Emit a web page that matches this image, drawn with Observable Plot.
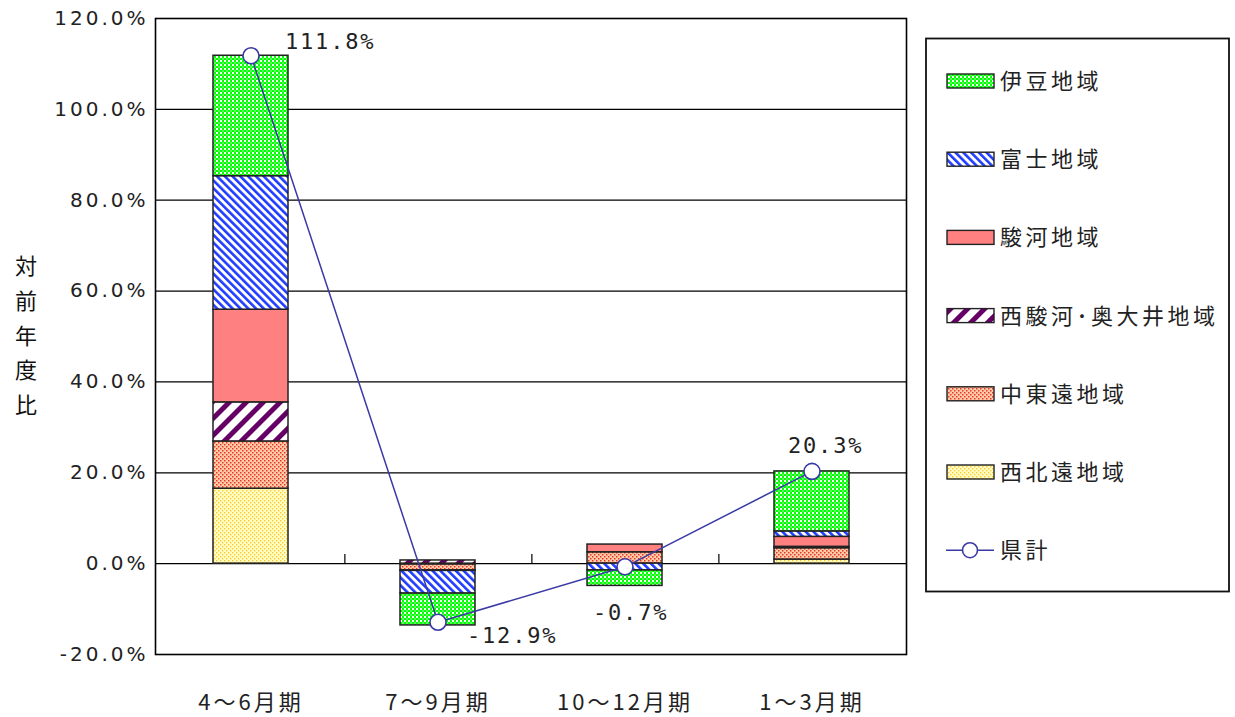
<!DOCTYPE html>
<html><head><meta charset="utf-8">
<script src="https://cdn.jsdelivr.net/npm/d3@7"></script>
<script src="https://cdn.jsdelivr.net/npm/@observablehq/plot@0.6"></script>
<style>
body{margin:0;background:#fff;}
#wrap{position:relative;width:1235px;height:717px;overflow:hidden;background:#fff;}
#chart{position:absolute;left:0;top:0;}
#ytitle{position:absolute;left:8px;top:247px;width:36px;text-align:center;font-family:"Noto Sans CJK JP",sans-serif;font-size:22px;line-height:34.75px;color:#111;}
#legend{position:absolute;left:0;top:0;}
g[aria-label="y-axis tick label"] text{font-family:"DejaVu Sans",sans-serif;font-size:20px;letter-spacing:3px;fill:#222;}
g[aria-label="x-axis tick label"] text{font-family:"Noto Sans CJK JP",sans-serif;font-size:22px;letter-spacing:3px;fill:#222;}
.vlab text{font-family:"DejaVu Sans Mono",monospace;font-size:22px;letter-spacing:1.8px;fill:#222;}
</style></head>
<body>
<svg width="0" height="0" style="position:absolute">
<defs>
<pattern id="p-izu" width="4" height="4" patternUnits="userSpaceOnUse">
  <rect width="4" height="4" fill="#00ff00"/>
  <rect x="0" y="0" width="2" height="2" fill="#ffffff"/>
  <rect x="2" y="2" width="2" height="2" fill="#ffffff" opacity="0.35"/>
</pattern>
<pattern id="p-fuji" width="5.5" height="5.5" patternUnits="userSpaceOnUse" patternTransform="rotate(-45)">
  <rect width="5.5" height="5.5" fill="#ffffff"/>
  <rect width="2.6" height="5.5" fill="#1f3cff"/>
</pattern>
<pattern id="p-nishi" width="12" height="12" patternUnits="userSpaceOnUse" patternTransform="rotate(45)">
  <rect width="12" height="12" fill="#ffffff"/>
  <rect width="5" height="12" fill="#660066"/>
</pattern>
<pattern id="p-chutoen" width="4" height="4" patternUnits="userSpaceOnUse">
  <rect width="4" height="4" fill="#ffcca8"/>
  <rect x="0" y="0" width="1.5" height="1.5" fill="#e8352a"/>
  <rect x="2" y="2" width="1.5" height="1.5" fill="#e8352a"/>
</pattern>
<pattern id="p-seihoku" width="4" height="4" patternUnits="userSpaceOnUse">
  <rect width="4" height="4" fill="#ffffc4"/>
  <rect x="0" y="0" width="1.4" height="1.4" fill="#ffc933"/>
  <rect x="2" y="2" width="1.4" height="1.4" fill="#ffc933"/>
</pattern>
</defs>
</svg>
<div id="wrap">
  <div id="chart"></div>
  <div id="ytitle"></div>
  <svg id="legend" width="1235" height="717"></svg>
</div>
<script>
// ---- data ----
const categories = ["4～6月期", "7～9月期", "10～12月期", "1～3月期"];
// stacking order: bottom (first) to top (last)
const regions = ["西北遠地域", "中東遠地域", "西駿河･奥大井地域", "駿河地域", "富士地域", "伊豆地域"];
const seihokuen   = [16.5, -0.2, 0.0, 0.9];
const chutoen     = [10.4, -1.3, 2.5, 2.5];
const nishisuruga = [8.6, 0.7, 0.0, 0.3];
const suruga      = [20.4, -0.1, 1.7, 2.2];
const fuji        = [29.4, -5.0, -1.5, 1.2];
const izu         = [26.5, -7.0, -3.4, 13.2];
const kenkei      = [111.8, -12.9, -0.7, 20.3];
const totalName = "県計";
const yTicks = [-20, 0, 20, 40, 60, 80, 100, 120];

const seriesValues = [seihokuen, chutoen, nishisuruga, suruga, fuji, izu];
const fills = {
  "西北遠地域": "url(#p-seihoku)",
  "中東遠地域": "url(#p-chutoen)",
  "西駿河･奥大井地域": "url(#p-nishi)",
  "駿河地域": "#ff8080",
  "富士地域": "url(#p-fuji)",
  "伊豆地域": "url(#p-izu)"
};
const lineColor = "#3a3aa6";

const tidy = [];
regions.forEach((r, j) => categories.forEach((c, i) => {
  const v = seriesValues[j][i];
  if (v !== 0) tidy.push({cat: c, region: r, value: v, fill: fills[r]});
}));
const totals = categories.map((c, i) => ({cat: c, value: kenkei[i], label: kenkei[i].toFixed(1) + "%"}));

const fmtPct = d => d.toFixed(1) + "%";
const step = (906 - 155) / categories.length;

const plot = Plot.plot({
  width: 912, height: 717,
  marginLeft: 155, marginRight: 6, marginTop: 18, marginBottom: 63,
  x: {domain: categories, paddingInner: 0.6, paddingOuter: 0.3, label: null},
  y: {domain: [-20, 120], label: null},
  color: {type: "identity"},
  style: {background: "#fff", overflow: "visible"},
  marks: [
    Plot.gridY(yTicks, {stroke: "#000", strokeOpacity: 1, strokeWidth: 1.2}),
    Plot.barY(tidy, Plot.stackY({x: "cat", y: "value", z: "region", fill: "fill", stroke: "#222", strokeWidth: 1.5})),
    Plot.ruleX(categories.slice(0, 3), {x: d => d, y1: 0, y2: 2, dx: step / 2, stroke: "#000", strokeWidth: 1.2}),
    Plot.frame({stroke: "#000", strokeWidth: 1.6}),
    Plot.axisY(yTicks, {tickSize: 0, tickPadding: 7, tickFormat: fmtPct}),
    Plot.axisX({tickSize: 0, tickPadding: 40}),
    Plot.line(totals, {x: "cat", y: "value", stroke: lineColor, strokeWidth: 1.5}),
    Plot.dot(totals, {x: "cat", y: "value", r: 8, fill: "#fff", stroke: lineColor, strokeWidth: 1.6}),
    Plot.text(totals.slice(0, 1), {x: "cat", y: "value", text: "label", dx: 34, dy: -14, textAnchor: "start", className: "vlab"}),
    Plot.text(totals.slice(1, 2), {x: "cat", y: "value", text: "label", dx: 29, dy: 14, textAnchor: "start", className: "vlab"}),
    Plot.text(totals.slice(2, 3), {x: "cat", y: "value", text: "label", dx: -32, dy: 46, textAnchor: "start", className: "vlab"}),
    Plot.text(totals.slice(3, 4), {x: "cat", y: "value", text: "label", dx: -24, dy: -25, textAnchor: "start", className: "vlab"})
  ]
});
document.getElementById("chart").appendChild(plot);

// y-axis title (vertical, one character per line)
document.getElementById("ytitle").innerHTML = "対前年度比".split("").join("<br>");

// legend
const leg = d3.select("#legend");
leg.append("rect").attr("x", 926).attr("y", 38.5).attr("width", 303).attr("height", 553)
  .attr("fill", "#fff").attr("stroke", "#111").attr("stroke-width", 1.8);
const legendItems = regions.slice().reverse().map(r => ({name: r, fill: fills[r]}));
legendItems.push({name: totalName, line: true});
const legY0 = 81, legStep = 78.2;
legendItems.forEach((it, i) => {
  const cy = legY0 + i * legStep;
  if (it.line) {
    leg.append("line").attr("x1", 946).attr("x2", 994).attr("y1", cy).attr("y2", cy)
      .attr("stroke", lineColor).attr("stroke-width", 1.6);
    leg.append("circle").attr("cx", 970).attr("cy", cy).attr("r", 7.5)
      .attr("fill", "#fff").attr("stroke", lineColor).attr("stroke-width", 1.6);
  } else {
    leg.append("rect").attr("x", 947).attr("y", cy - 7).attr("width", 47).attr("height", 14)
      .attr("fill", it.fill).attr("stroke", "#222").attr("stroke-width", 1.4);
  }
  leg.append("text").attr("x", 1000).attr("y", cy).attr("dy", "0.36em")
    .attr("font-family", "Noto Sans CJK JP, sans-serif").attr("font-size", 22)
    .attr("letter-spacing", "3.5px").attr("fill", "#222").text(it.name);
});
</script>
</body></html>
